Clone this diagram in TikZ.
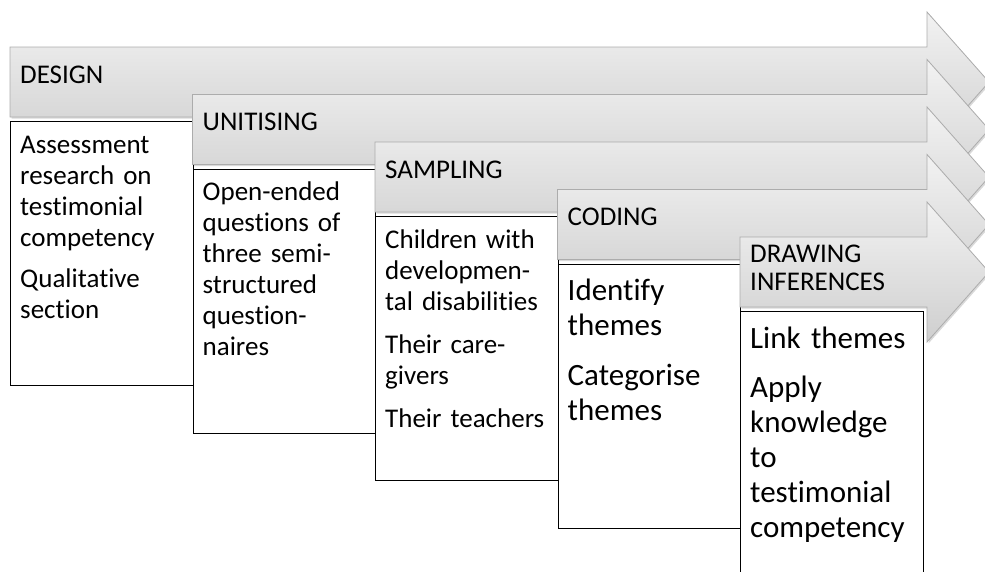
\documentclass[tikz,border=0pt]{standalone}
\usepackage{fontspec}
\setmainfont{Carlito}[Ligatures=NoCommon]
\usetikzlibrary{shadows}

\tikzset{
  stagearrow/.style={draw=gray!65, line width=0.8pt,
    top color=gray!10, bottom color=gray!38,
    drop shadow={shadow xshift=1.5pt, shadow yshift=-1.5pt, opacity=0.3}},
  stagebox/.style={draw=black, fill=white, line width=1pt,
    minimum width=182.5pt, minimum height=264pt,
    inner sep=0pt, anchor=north west},
  stagelabel/.style={anchor=base west, inner sep=0pt,
    font=\fontsize{27}{28}\selectfont},
  boxtext/.style={anchor=base west, inner sep=0pt, text width=172pt,
    align=left, font=\fontsize{27}{31}\selectfont},
  bigtext/.style={boxtext, font=\fontsize{31}{35}\selectfont}
}

\begin{document}
\begin{tikzpicture}[x=1pt,y=-1pt]

\clip (0,0) rectangle (985,571);

% design
\path[stagearrow] (10,47) -- (927,47) -- (927,12) -- (989,82)
  -- (927,152) -- (927,117) -- (10,117) -- cycle;
\node[stagelabel] (design) at (20,83) {DESIGN};
\node[stagebox] (designbox) at (10,121) {};
\node[boxtext] (designtext) at ([shift={(10,32)}]designbox.north west)
  {Assessment\\research on\\testimonial\\competency\\[10pt]Qualitative\\section};

% unitising
\path[stagearrow] (192.5,94.5) -- (927,94.5) -- (927,59.5) -- (989,129.5)
  -- (927,199.5) -- (927,164.5) -- (192.5,164.5) -- cycle;
\node[stagelabel] (unitising) at (202.5,130.5) {UNITISING};
\node[stagebox] (unitisingbox) at (192.5,168.5) {};
\node[boxtext] (unitisingtext) at ([shift={(10,32)}]unitisingbox.north west)
  {Open-ended\\questions of\\three semi-\\structured\\question-\\naires};

% sampling
\path[stagearrow] (375,142) -- (927,142) -- (927,107) -- (989,177)
  -- (927,247) -- (927,212) -- (375,212) -- cycle;
\node[stagelabel] (sampling) at (385,178) {SAMPLING};
\node[stagebox] (samplingbox) at (375,216) {};
\node[boxtext] (samplingtext) at ([shift={(10,32)}]samplingbox.north west)
  {Children with\\developmen-\\tal disabilities\\[12pt]Their care-\\givers\\[12pt]Their teachers};

% coding
\path[stagearrow] (557.5,189.5) -- (927,189.5) -- (927,154.5) -- (989,224.5)
  -- (927,294.5) -- (927,259.5) -- (557.5,259.5) -- cycle;
\node[stagelabel] (coding) at (567.5,225.5) {CODING};
\node[stagebox] (codingbox) at (557.5,263.5) {};
\node[bigtext] (codingtext) at ([shift={(10,36.5)}]codingbox.north west)
  {Identify\\themes\\[15pt]Categorise\\themes};

% drawing inferences
\path[stagearrow] (740,237) -- (927,237) -- (927,202) -- (989,272)
  -- (927,342) -- (927,307) -- (740,307) -- cycle;
\node[stagelabel, text width=170pt, align=left] (drawing) at (750,262)
  {DRAWING\\INFERENCES};
\node[stagebox] (drawingbox) at (740,311) {};
\node[bigtext] (drawingtext) at ([shift={(10,37)}]drawingbox.north west)
  {Link themes\\[14pt]Apply\\knowledge\\to\\testimonial\\competency};

\end{tikzpicture}
\end{document}
